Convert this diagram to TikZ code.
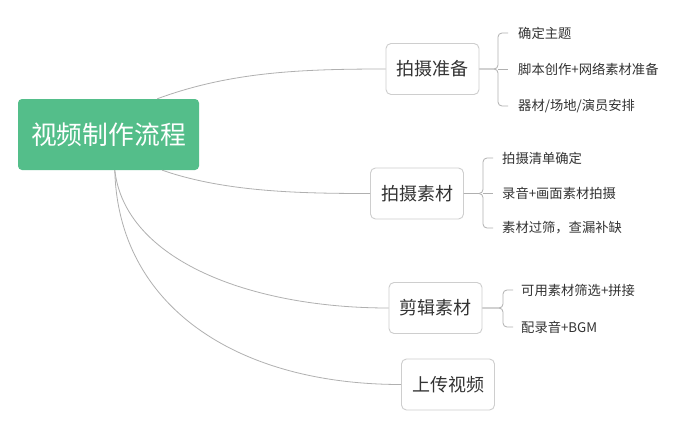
\documentclass[tikz,border=0pt]{standalone}
\usepackage{fontspec}
\setmainfont{Noto Sans CJK SC}
\definecolor{rootgreen}{RGB}{84,190,138}
\definecolor{boxline}{RGB}{206,206,206}
\definecolor{conn}{RGB}{176,176,176}
\definecolor{txt}{RGB}{51,51,51}
\tikzset{
  rootbox/.style={draw=none, fill=rootgreen, rounded corners=4pt, minimum width=181pt, minimum height=71pt, text=white, font=\fontsize{25.8}{30}\selectfont, inner sep=0pt},
  branchbox/.style={draw=boxline, line width=0.9pt, fill=white, rounded corners=5pt, minimum width=93pt, minimum height=51pt, text=txt, font=\fontsize{18}{22}\selectfont, inner sep=0pt},
  leaf/.style={anchor=west, inner sep=0pt, text=txt, font=\fontsize{13.3}{16}\selectfont},
  curve/.style={draw=conn, line width=0.8pt},
  bracket/.style={draw=conn, line width=0.8pt, rounded corners=4pt}
}
\begin{document}
\begin{tikzpicture}[x=1pt,y=-1pt]
\useasboundingbox (0,0) rectangle (678,426);
\fill[white] (0,0) rectangle (678,426);

\node[rootbox] (root) at (108.5,134.5) {视频制作流程};

\node[branchbox] (b1) at (432.5,69) {拍摄准备};
\node[branchbox] (b2) at (417,193.5) {拍摄素材};
\node[branchbox] (b3) at (435.5,308) {剪辑素材};
\node[branchbox] (b4) at (448,384.5) {上传视频};

% curves from root
\draw[curve] ([xshift=-42pt]root.north east) .. controls (230,72) and (300,69) .. (b1.west);
\draw[curve] ([xshift=-37pt]root.south east) .. controls (225,192) and (300,193.5) .. (b2.west);
\draw[curve] ([xshift=97pt]root.south west) .. controls (125,260) and (250,308) .. (b3.west);
\draw[curve] ([xshift=97pt]root.south west) .. controls (118,305) and (235,384.5) .. (b4.west);

% leaves of b1
\node[leaf] (c11) at (518,33) {确定主题};
\node[leaf] (c12) at (518,69) {脚本创作+网络素材准备};
\node[leaf] (c13) at (518,106) {器材/场地/演员安排};
\coordinate (k1) at (498,69);
\draw[bracket] (b1.east) -- (k1) |- ([xshift=-10pt]c11.west);
\draw[bracket] (b1.east) -- (k1) |- ([xshift=-10pt]c13.west);
\draw[bracket] (k1) -- ([xshift=-10pt]c12.west);

% leaves of b2
\node[leaf] (c21) at (502,158) {拍摄清单确定};
\node[leaf] (c22) at (502,193.5) {录音+画面素材拍摄};
\node[leaf] (c23) at (502,228) {素材过筛，查漏补缺};
\coordinate (k2) at (483,193.5);
\draw[bracket] (b2.east) -- (k2) |- ([xshift=-9pt]c21.west);
\draw[bracket] (b2.east) -- (k2) |- ([xshift=-9pt]c23.west);
\draw[bracket] (k2) -- ([xshift=-9pt]c22.west);

% leaves of b3
\node[leaf] (c31) at (521,290) {可用素材筛选+拼接};
\node[leaf] (c32) at (521,327) {配录音+BGM};
\coordinate (k3) at (503,308);
\draw[bracket] (b3.east) -- (k3) |- ([xshift=-8pt]c31.west);
\draw[bracket] (b3.east) -- (k3) |- ([xshift=-8pt]c32.west);
\end{tikzpicture}
\end{document}
